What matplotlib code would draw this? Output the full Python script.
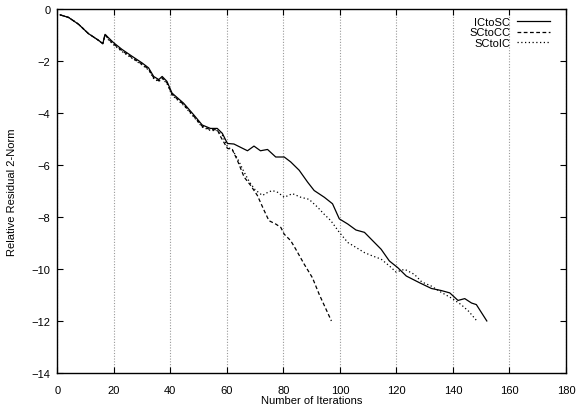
import numpy as np
import matplotlib
matplotlib.use("Agg")
import matplotlib.pyplot as plt

plt.rcParams['font.family'] = ['Liberation Sans', 'DejaVu Sans']
plt.rcParams['font.size'] = 8

# shared start of the three runs (iteration, log10 residual)
x_common = [1, 4, 7.5, 11, 14.6, 16.1, 16.9, 18.1, 19.9, 22.9, 26.4, 30, 32.3,
            34.1, 35.9, 37.1, 38.8, 40.6, 44.7, 48.3, 51.3, 54.2, 56.6]
y_common = [-0.22, -0.32, -0.58, -0.94, -1.20, -1.33, -0.97, -1.10, -1.29, -1.55,
            -1.81, -2.07, -2.26, -2.59, -2.71, -2.59, -2.78, -3.23, -3.62, -4.07,
            -4.46, -4.59, -4.59]

# ICtoSC
x_ic = [58.4, 60.2, 62.5, 64.9, 67.3, 69.6, 71.9, 74.4, 77.3, 80.3, 82.6, 85.6,
        88.6, 90.9, 94.5, 97.4, 99.8, 102.8, 105.7, 108.7, 111.6, 114.6, 117.5,
        120.5, 123.5, 128.2, 132.4, 135.9, 138.9, 141.8, 144.2, 146.6, 148.3, 152]
y_ic = [-4.78, -5.17, -5.19, -5.32, -5.45, -5.27, -5.45, -5.40, -5.69, -5.69,
        -5.88, -6.20, -6.66, -6.98, -7.24, -7.49, -8.07, -8.27, -8.50, -8.59,
        -8.91, -9.24, -9.69, -9.95, -10.27, -10.53, -10.75, -10.83, -10.92,
        -11.21, -11.14, -11.31, -11.37, -12.0]

# SCtoCC
x_cc = [57.8, 60.2, 61.9, 63.7, 66.1, 68.4, 70.8, 73.2, 74.9, 77.3, 79.1, 80.3,
        82.6, 84.4, 87.4, 90.3, 92.7, 95.7, 97]
y_cc = [-4.91, -5.36, -5.40, -5.81, -6.46, -6.78, -7.17, -7.75, -8.14, -8.27,
        -8.40, -8.66, -8.91, -9.24, -9.82, -10.34, -10.98, -11.69, -12.0]

# SCtoIC
x_si = [58.4, 60.2, 62, 64, 66, 68, 70, 72.6, 74.5, 76.1, 78, 80.3, 83.2, 86.2,
        89.1, 92.1, 94.5, 96.8, 99.8, 102.8, 105.7, 108.7, 111.6, 114.6, 117.5,
        119.9, 122.9, 126.4, 129, 132.4, 135.9, 139.5, 142.9, 145.6, 148.5]
y_si = [-4.85, -5.30, -5.42, -5.80, -6.25, -6.65, -6.95, -7.17, -7.05, -6.98,
        -7.05, -7.24, -7.10, -7.24, -7.32, -7.62, -7.90, -8.14, -8.59, -8.98,
        -9.17, -9.37, -9.50, -9.62, -9.88, -10.12, -10.01, -10.21, -10.50,
        -10.66, -10.90, -11.12, -11.37, -11.63, -12.0]

lag = np.array([0 if x < 18 else 0.05 for x in x_common])

fig = plt.figure(figsize=(5.76, 4.06), dpi=100)
ax = fig.add_axes([0.0995, 0.079, 0.883, 0.896])

ax.plot(x_common + x_ic, y_common + y_ic, color='black', lw=0.9,
        label='ICtoSC')
ax.plot(x_common + x_cc, list(np.array(y_common) - lag) + y_cc, color='black',
        lw=0.9, dashes=(3, 2), label='SCtoCC')
ax.plot(x_common + x_si, list(np.array(y_common) - lag * 1.6) + y_si,
        color='black', lw=0.9, dashes=(1, 2), label='SCtoIC')

ax.set_xlim(0, 180)
ax.set_ylim(-14, 0)
ax.set_xticks(np.arange(0, 181, 20))
ax.set_yticks(np.arange(-14, 1, 2))
ax.xaxis.grid(True, color='#999999', linestyle=(0, (1, 1.5)), lw=0.8)
ax.tick_params(direction='in', top=True, right=True, length=4, width=0.8,
               labelsize=8)
ax.tick_params(axis='x', pad=9)
ax.tick_params(axis='y', pad=5)
for s in ax.spines.values():
    s.set_linewidth(1.0)

ax.set_xlabel('Number of Iterations', fontsize=8, labelpad=0)
ax.set_ylabel('Relative Residual 2-Norm', fontsize=8, labelpad=10)

ax.legend(loc='upper right', bbox_to_anchor=(1 - 8 / 509, 1), frameon=False,
          markerfirst=False, handlelength=3.0, handletextpad=0.6,
          labelspacing=0.05, borderaxespad=0.3, fontsize=8)

fig.savefig('out.png', dpi=100)
